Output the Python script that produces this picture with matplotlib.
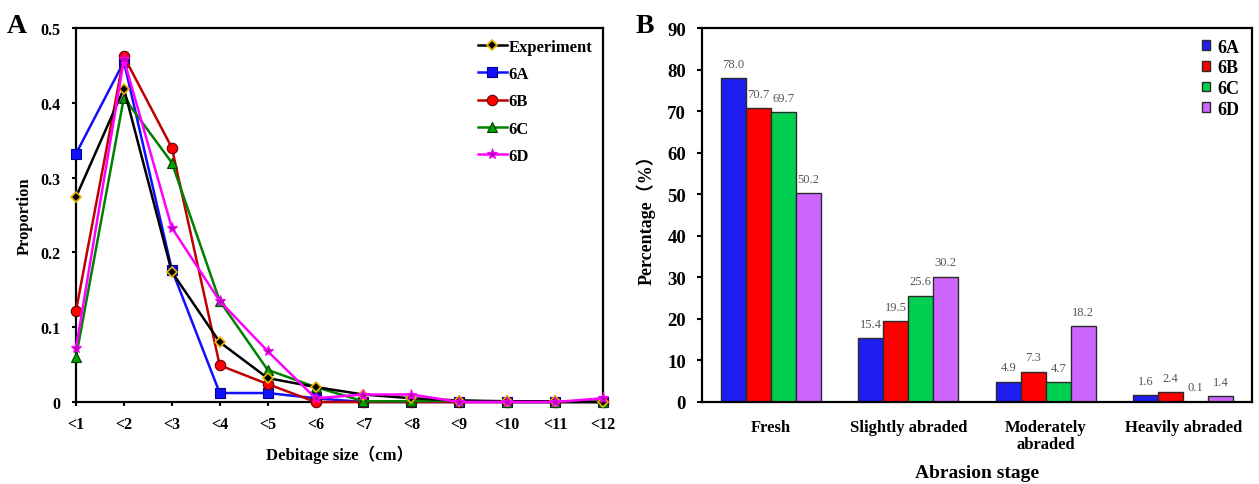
import matplotlib
matplotlib.use("Agg")
import matplotlib.pyplot as plt
import numpy as np

plt.rcParams['font.family'] = ['Liberation Serif', 'Noto Sans CJK SC']
plt.rcParams['font.weight'] = 'bold'

# Panel A data
size_labels = ['<1', '<2', '<3', '<4', '<5', '<6', '<7', '<8', '<9', '<10', '<11', '<12']
experiment = [0.274, 0.419, 0.174, 0.080, 0.032, 0.020, 0.010, 0.005, 0.002, 0.001, 0.001, 0.000]
a6A = [0.332, 0.455, 0.177, 0.012, 0.012, 0.005, 0.000, 0.000, 0.000, 0.000, 0.000, 0.000]
a6B = [0.122, 0.462, 0.340, 0.049, 0.024, 0.000, 0.000, 0.000, 0.000, 0.000, 0.000, 0.000]
a6C = [0.060, 0.407, 0.320, 0.135, 0.043, 0.020, 0.001, 0.001, 0.002, 0.000, 0.000, 0.000]
a6D = [0.072, 0.458, 0.233, 0.135, 0.068, 0.005, 0.010, 0.010, 0.000, 0.000, 0.000, 0.005]

# Panel B data
stages = ['Fresh', 'Slightly abraded', 'Moderately\nabraded', 'Heavily abraded']
b6A = [78.0, 15.4, 4.9, 1.6]
b6B = [70.7, 19.5, 7.3, 2.4]
b6C = [69.7, 25.6, 4.7, 0.1]
b6D = [50.2, 30.2, 18.2, 1.4]

fig = plt.figure(figsize=(12.59, 4.85), dpi=100)

# ---------- Panel A ----------
axA = fig.add_axes([76 / 1259, 82 / 485, 527 / 1259, 374 / 485])
x = np.arange(len(size_labels))
axA.plot(x, experiment, color='black', lw=1.8, marker='D', ms=5.5, mfc='black', mec='#E8B400', mew=1.2, label='Experiment', zorder=5, clip_on=False)
axA.plot(x, a6A, color='#1010FF', lw=1.8, marker='s', ms=6.5, mfc='#1010FF', mec='#00008B', mew=0.8, label='6A', zorder=4, clip_on=False)
axA.plot(x, a6B, color='#C00000', lw=1.8, marker='o', ms=7.5, mfc='#FF0000', mec='#600000', mew=0.8, label='6B', zorder=4, clip_on=False)
axA.plot(x, a6C, color='#008000', lw=1.8, marker='^', ms=7, mfc='#00A000', mec='#004000', mew=0.8, label='6C', zorder=4, clip_on=False)
axA.plot(x, a6D, color='#FF00FF', lw=1.8, marker='*', ms=8, mfc='#B000B0', mec='#FF00FF', mew=0.8, label='6D', zorder=6, clip_on=False)
axA.set_xlim(0, 11)
axA.set_ylim(0, 0.5)
axA.set_xticks(x)
axA.set_xticklabels(size_labels, fontsize=11.5, fontweight='bold')
axA.set_yticks([0, 0.1, 0.2, 0.3, 0.4, 0.5])
axA.set_yticklabels(['0', '0.1', '0.2', '0.3', '0.4', '0.5'], fontsize=11.5, fontweight='bold')
axA.tick_params(axis='x', direction='out', length=3, width=1.5, pad=7)
axA.tick_params(axis='y', direction='out', length=3, width=1.5, pad=8)
for s in axA.spines.values():
    s.set_linewidth(1.6)
axA.set_xlabel('Debitage size（cm）', fontsize=12, fontweight='bold')
axA.xaxis.set_label_coords(0.5, -0.113)
axA.set_ylabel('Proportion', fontsize=12, fontweight='bold')
axA.yaxis.set_label_coords(-0.082, 0.5)
axA.legend(loc='upper right', bbox_to_anchor=(1.0, 1.0), frameon=False, fontsize=12,
           handlelength=1.75, labelspacing=0.68, borderaxespad=0.25, handletextpad=0.1)
fig.text(7 / 1259, 1 - 33 / 485, 'A', fontsize=20, fontweight='bold')

# ---------- Panel B ----------
axB = fig.add_axes([702 / 1259, 82 / 485, 550 / 1259, 374 / 485])
xb = np.arange(len(stages))
w = 0.182
colors = ['#1E1EF0', '#FF0000', '#00D050', '#CC66FF']
series = [b6A, b6B, b6C, b6D]
names = ['6A', '6B', '6C', '6D']
for i, (vals, c, n) in enumerate(zip(series, colors, names)):
    pos = xb + (i - 1.5) * w
    axB.bar(pos, vals, width=w, color=c, edgecolor='#2A2A2A', linewidth=1.0, label=n)
    for p, v in zip(pos, vals):
        axB.text(p, v + 2.0, f'{v:.1f}', ha='center', va='bottom', fontsize=9,
                 fontweight='normal', color='#555555')
axB.set_xlim(-0.5, 3.5)
axB.set_ylim(0, 90)
axB.set_yticks(np.arange(0, 91, 10))
axB.set_yticklabels([str(v) for v in range(0, 91, 10)], fontsize=13.5, fontweight='bold')
axB.set_xticks(xb)
axB.set_xticklabels(stages, fontsize=12, fontweight='bold', linespacing=1.1)
axB.tick_params(axis='x', length=0, pad=12)
axB.tick_params(axis='y', direction='out', length=3.5, width=1.5, pad=8)
for s in axB.spines.values():
    s.set_linewidth(1.6)
axB.set_xlabel('Abrasion stage', fontsize=14, fontweight='bold')
axB.xaxis.set_label_coords(0.5, -0.167)
axB.set_ylabel('Percentage（%）', fontsize=13, fontweight='bold')
axB.yaxis.set_label_coords(-0.084, 0.5)
axB.legend(loc='upper right', bbox_to_anchor=(1.0, 1.005), frameon=False, fontsize=13,
           handlelength=0.45, handleheight=0.45, labelspacing=0.2, borderaxespad=0.3,
           handletextpad=0.4)
fig.text(636 / 1259, 1 - 33 / 485, 'B', fontsize=20, fontweight='bold')

fig.savefig('out.png', dpi=100)
